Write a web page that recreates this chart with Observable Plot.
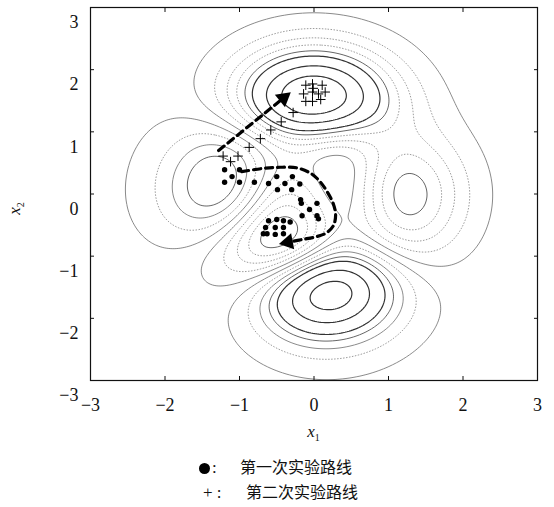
<!DOCTYPE html>
<html>
<head>
<meta charset="utf-8">
<script src="https://cdn.jsdelivr.net/npm/d3@7"></script>
<script src="https://cdn.jsdelivr.net/npm/@observablehq/plot@0.6"></script>
<style>
  body { margin: 0; background: #fff; }
  #chart { width: 554px; }
  #chart svg text { font-family: "Liberation Serif", serif !important; }
  .legend { font-family: "Noto Sans CJK SC", "Liberation Serif", serif; font-size: 16px; color: #111; padding-top: 9px; }
  .legend .row { height: 25px; line-height: 25px; white-space: nowrap; }
  .legend .sym { display: inline-block; font-family: "Liberation Serif", serif; font-size: 17px; }
  .legend .bullet { display: inline-block; width: 11px; height: 11px; border-radius: 50%; background: #000; vertical-align: -1px; margin-right: 2px; }
</style>
</head>
<body>
<div id="chart"></div>
<div class="legend">
  <div class="row"><span class="sym" style="margin-left:199px;width:41px;"><span class="bullet"></span>:</span><span>第一次实验路线</span></div>
  <div class="row"><span class="sym" style="margin-left:203px;width:43px;">+ :</span><span>第二次实验路线</span></div>
</div>
<script>
// ---- data ----
const xTicks = [-3, -2, -1, 0, 1, 2, 3];
const yTicks = [-3, -2, -1, 0, 1, 2, 3];

// contour levels, grouped by how they are printed
const darkLevels = [-5.85, -4.46, -3.06, 3.91, 5.31, 6.71];
const midLevels = [-2.36, 3.22];
const grayLevels = [-1.67, -0.27, 0.43];
const dottedLevels = [-0.97, 1.12, 1.82, 2.52];

// first experiment (dots)
const run1X = [-1.20, -1.10, -1.00, -1.20, -1.00, -0.80, -0.61, -0.50, -0.49, -0.39, -0.29, -0.30, -0.19, -0.18, -0.17, -0.06, 0.04, -0.16, 0.04, 0.06,
               -0.61, -0.50, -0.41, -0.32, -0.65, -0.52, -0.41, -0.68, -0.63, -0.52, -0.41];
const run1Y = [0.39, 0.28, 0.39, 0.19, 0.19, 0.19, 0.17, 0.28, 0.07, 0.17, 0.28, 0.07, 0.16, -0.09, -0.15, -0.25, -0.15, -0.35, -0.35, -0.40,
               -0.43, -0.41, -0.43, -0.45, -0.54, -0.54, -0.54, -0.64, -0.64, -0.65, -0.64];

// second experiment (crosses)
const run2X = [-1.22, -1.12, -1.02, -0.87, -0.72, -0.58, -0.44, -0.28,
               -0.11, -0.02, 0.11, -0.14, -0.02, 0.06, 0.15, -0.11, -0.02, 0.09, -0.01];
const run2Y = [0.61, 0.52, 0.61, 0.75, 0.89, 1.03, 1.16, 1.31,
               1.75, 1.77, 1.75, 1.61, 1.64, 1.61, 1.64, 1.49, 1.49, 1.52, 1.70];

// dashed route arrows (last point = arrow tip)
const path1X = [-0.97, -0.69, -0.45, -0.23, -0.04, 0.08, 0.18, 0.26, 0.29, 0.26, 0.16, 0.02, -0.15, -0.33, -0.46];
const path1Y = [0.36, 0.41, 0.43, 0.42, 0.33, 0.20, 0.03, -0.16, -0.34, -0.51, -0.63, -0.69, -0.73, -0.77, -0.80];
const path2X = [-1.28, -0.32];
const path2Y = [0.70, 1.63];

// MATLAB "peaks" surface shown by the contours
function peaks(x, y) {
  return 3 * (1 - x) ** 2 * Math.exp(-x * x - (y + 1) ** 2)
    - 10 * (x / 5 - x ** 3 - y ** 5) * Math.exp(-x * x - y * y)
    - Math.exp(-((x + 1) ** 2) - y * y) / 3;
}

// ---- layout ----
const W = 554, H = 445, ML = 90, MR = 17, MT = 7, MB = 65;
const KX = (W - ML - MR) / 6, KY = (H - MT - MB) / 6;
const SERIF = "Liberation Serif";

function arrow(px, py) {
  const n = px.length;
  const dx = (px[n - 1] - px[n - 2]) * KX, dy = -(py[n - 1] - py[n - 2]) * KY;
  const L = Math.hypot(dx, dy), ux = dx / L, uy = dy / L, back = 8.5;
  const head = { x: px[n - 1] - ux * back / KX, y: py[n - 1] + uy * back / KY, rot: Math.atan2(dy, dx) * 180 / Math.PI + 90 };
  const line = px.slice(0, n - 1).map((x, i) => ({ x, y: py[i] }));
  line.push({ x: head.x, y: head.y });
  return { line, head };
}
const a1 = arrow(path1X, path1Y), a2 = arrow(path2X, path2Y);
const run1 = run1X.map((x, i) => ({ x, y: run1Y[i] }));
const run2 = run2X.map((x, i) => ({ x, y: run2Y[i] }));

const contourMark = (levels, stroke, strokeWidth, dash) => Plot.contour({
  value: (x, y) => peaks(x, y),
  x1: -3.6, x2: 3.6, y1: -3.6, y2: 3.6,
  thresholds: levels, fill: "none", stroke, strokeWidth, strokeDasharray: dash, clip: true
});
const fmt = d => d < 0 ? "\u2212" + Math.abs(d) : String(d);
const blank = () => "";
const axisFont = { fontFamily: SERIF, fontSize: 18, fontVariant: "normal" };

const plot = Plot.plot({
  width: W, height: H,
  marginLeft: ML, marginRight: MR, marginTop: MT, marginBottom: MB,
  style: { fontFamily: SERIF, fontSize: "18px", color: "#111", background: "#fff" },
  x: { domain: [-3, 3] },
  y: { domain: [-3, 3] },
  marks: [
    contourMark(dottedLevels, "#9c9c9c", 1, "1.5,1.5"),
    contourMark(grayLevels, "#8a8a8a", 1, null),
    contourMark(midLevels, "#666", 1, null),
    contourMark(darkLevels, "#333", 1.2, null),
    Plot.dot(run1, { x: "x", y: "y", r: 2.7, fill: "#000" }),
    Plot.dot(run2, { x: "x", y: "y", symbol: "plus", r: 3.2, stroke: "#000", strokeWidth: 1 }),
    Plot.line(a1.line, { x: "x", y: "y", curve: "catmull-rom", stroke: "#000", strokeWidth: 3.2, strokeDasharray: "7,5" }),
    Plot.line(a2.line, { x: "x", y: "y", stroke: "#000", strokeWidth: 3.2, strokeDasharray: "7,5" }),
    Plot.dot([a1.head, a2.head], { x: "x", y: "y", rotate: "rot", symbol: "triangle", r: 6, fill: "#000", stroke: "none" }),
    Plot.frame({ stroke: "#111", strokeWidth: 1.2 }),
    Plot.axisX(xTicks, { anchor: "bottom", tickSize: -4, tickPadding: 22, tickFormat: fmt, label: null, ...axisFont }),
    Plot.axisX(xTicks, { anchor: "top", tickSize: -4, tickFormat: blank, label: null }),
    Plot.axisY(yTicks, { anchor: "left", tickSize: -4, tickFormat: blank, label: null }),
    Plot.axisY(yTicks, { anchor: "left", tickSize: 0, tickPadding: 12, dy: 15, tickFormat: fmt, label: null, ...axisFont }),
    Plot.axisY(yTicks, { anchor: "right", tickSize: -4, tickFormat: blank, label: null })
  ]
});
document.getElementById("chart").appendChild(plot);

// axis titles x1 / x2 (italic x with subscript)
const svg = d3.select(plot);
const sx = plot.scale("x"), sy = plot.scale("y");
const t1 = svg.append("text").attr("x", sx.apply(0)).attr("y", 437).attr("text-anchor", "middle")
  .attr("font-family", SERIF).attr("font-size", 17).attr("fill", "#111");
t1.append("tspan").attr("font-style", "italic").text("x");
t1.append("tspan").attr("font-size", 10).attr("dy", 4).text("1");
const t2 = svg.append("text").attr("transform", `translate(20,${sy.apply(0) + 15}) rotate(-90)`).attr("text-anchor", "middle")
  .attr("font-family", SERIF).attr("font-size", 17).attr("fill", "#111");
t2.append("tspan").attr("font-style", "italic").text("x");
t2.append("tspan").attr("font-size", 10).attr("dy", 4).text("2");
</script>
</body>
</html>
